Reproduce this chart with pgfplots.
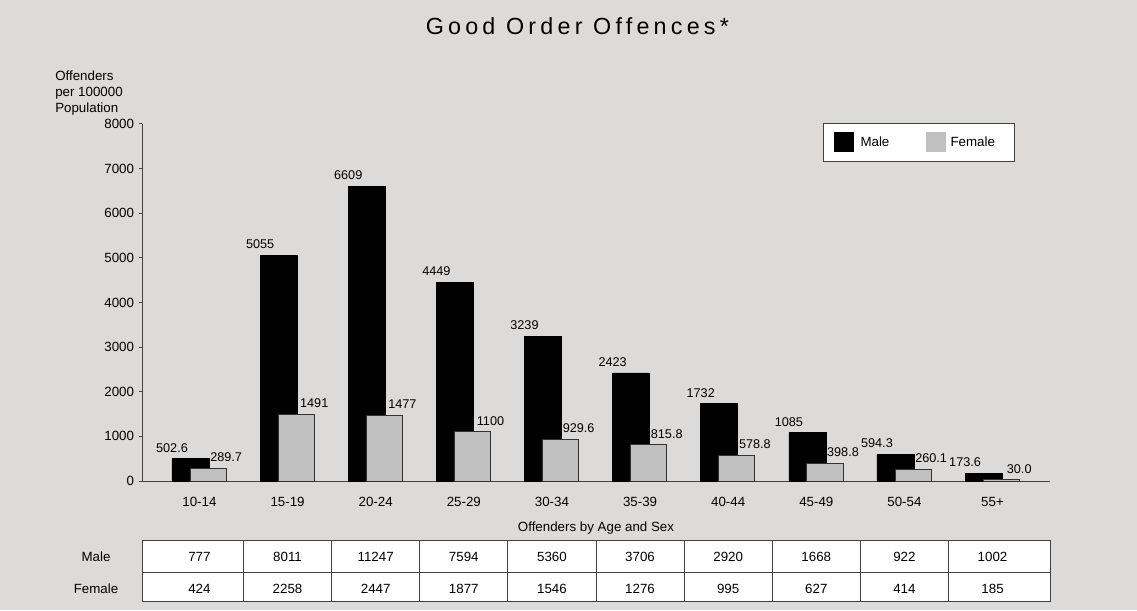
\documentclass[border=0pt]{standalone}
\usepackage{pgfplots}
\pgfplotsset{compat=1.18}
\usepackage{pgfplotstable}
\usepackage{fontspec}
\setmainfont{Liberation Sans}
\newfontfamily\titlefont[LetterSpace=18]{Liberation Sans}
\definecolor{bg}{RGB}{220,219,218}
\definecolor{fem}{RGB}{192,192,192}
\definecolor{axisgray}{RGB}{64,64,64}

\pgfplotstableread{
x male female
0 502.6 289.7
1 5055 1491
2 6609 1477
3 4449 1100
4 3239 929.6
5 2423 815.8
6 1732 578.8
7 1085 398.8
8 594.3 260.1
9 173.6 30.0
}\datatable

\begin{document}
\begin{tikzpicture}[font=\fontsize{10}{12}\selectfont]
\path[use as bounding box, fill=bg] (0,0) rectangle (852.75pt,457.5pt);
\node[anchor=base, inner sep=0pt, font=\titlefont\fontsize{17.5}{20}\selectfont] at (433pt,431.25pt) {Good Order Offences*};
\node[anchor=north west, align=left, inner sep=0pt] at (41.25pt,404.8pt) {Offenders\\per 100000\\Population};
\begin{axis}[
  at={(106.5pt,96.75pt)}, anchor=south west,
  scale only axis, width=681pt, height=267.75pt,
  xmin=-0.652, xmax=9.652, ymin=0, ymax=8000,
  axis x line*=bottom, axis y line*=left,
  axis line style={draw=axisgray, line width=0.75pt, -},
  xtick={0,...,9},
  xticklabels={10-14,15-19,20-24,25-29,30-34,35-39,40-44,45-49,50-54,55+},
  xtick style={draw=none},
  ytick={0,1000,...,8000},
  tick align=outside,
  major tick length=2.5pt,
  ytick style={draw=axisgray, line width=0.75pt},
  yticklabel style={anchor=east, inner sep=0pt, xshift=-3.3pt},
  xticklabel style={anchor=north, inner sep=0pt, yshift=-9.5pt},
  /pgf/number format/1000 sep={},
  /pgf/number format/assume math mode=true,
  scaled y ticks=false,
  clip=false,
  legend columns=2,
  legend style={at={(0.75,1.003)}, anchor=north west, draw=axisgray, fill=white,
    line width=0.75pt, inner xsep=7.5pt, inner ysep=6.75pt,
    nodes={inner sep=0pt}, /tikz/column sep=0pt, cells={anchor=center}},
  legend image code/.code={\fill[#1, draw=none] (0pt,-7.5pt) rectangle (15pt,7.5pt);},
]
\addplot[ybar, bar width=0.42, bar shift=-0.102, fill=black, draw=black, line width=0.4pt,
  nodes near coords, point meta=explicit symbolic,
  every node near coord/.style={anchor=base, inner sep=0pt, yshift=4.9pt, xshift=-20.6pt, font=\fontsize{9.5}{11}\selectfont, text=black}]
  table[x=x, y=male, meta=male] {\datatable};
\addlegendentry{\hspace*{5.25pt}\makebox[48.75pt][l]{Male}}
\addplot[ybar, bar width=0.41, bar shift=0.099, fill=fem, draw=black!80, line width=0.75pt,
  nodes near coords, point meta=explicit symbolic,
  every node near coord/.style={anchor=base, inner sep=0pt, yshift=4.9pt, xshift=20pt, font=\fontsize{9.5}{11}\selectfont, text=black}]
  table[x=x, y=female, meta=female] {\datatable};
\addlegendentry{\hspace*{3.75pt}\makebox[40.5pt][l]{Female}}

% table below the axis
\fill[white] (axis cs:-0.652,-1344.5) rectangle (axis cs:9.652,-2704.8);
\draw[axisgray, line width=0.75pt] (axis cs:-0.652,-1344.5) rectangle (axis cs:9.652,-2704.8);
\draw[axisgray, line width=0.75pt] (axis cs:-0.652,-2045.9) -- (axis cs:9.652,-2045.9);
\foreach \xv in {0.5,1.5,2.5,3.5,4.5,5.5,6.5,7.5,8.5}{
  \edef\tmp{\noexpand\draw[axisgray, line width=0.75pt] (axis cs:\xv,-1344.5) -- (axis cs:\xv,-2704.8);}\tmp
}
\foreach \i/\m/\f in {0/777/424,1/8011/2258,2/11247/2447,3/7594/1877,4/5360/1546,5/3706/1276,6/2920/995,7/1668/627,8/922/414,9/1002/185}{
  \edef\tmp{\noexpand\node[anchor=base, inner sep=0pt] at (axis cs:\i,-1805) {\m};
    \noexpand\node[anchor=base, inner sep=0pt] at (axis cs:\i,-2515) {\f};}\tmp
}
\node[anchor=base, inner sep=0pt] at (axis cs:-1.174,-1805) {Male};
\node[anchor=base, inner sep=0pt] at (axis cs:-1.174,-2515) {Female};
\node[anchor=base, inner sep=0pt] at (axis cs:4.5,-1140) {Offenders by Age and Sex};
\end{axis}
\end{tikzpicture}
\end{document}
